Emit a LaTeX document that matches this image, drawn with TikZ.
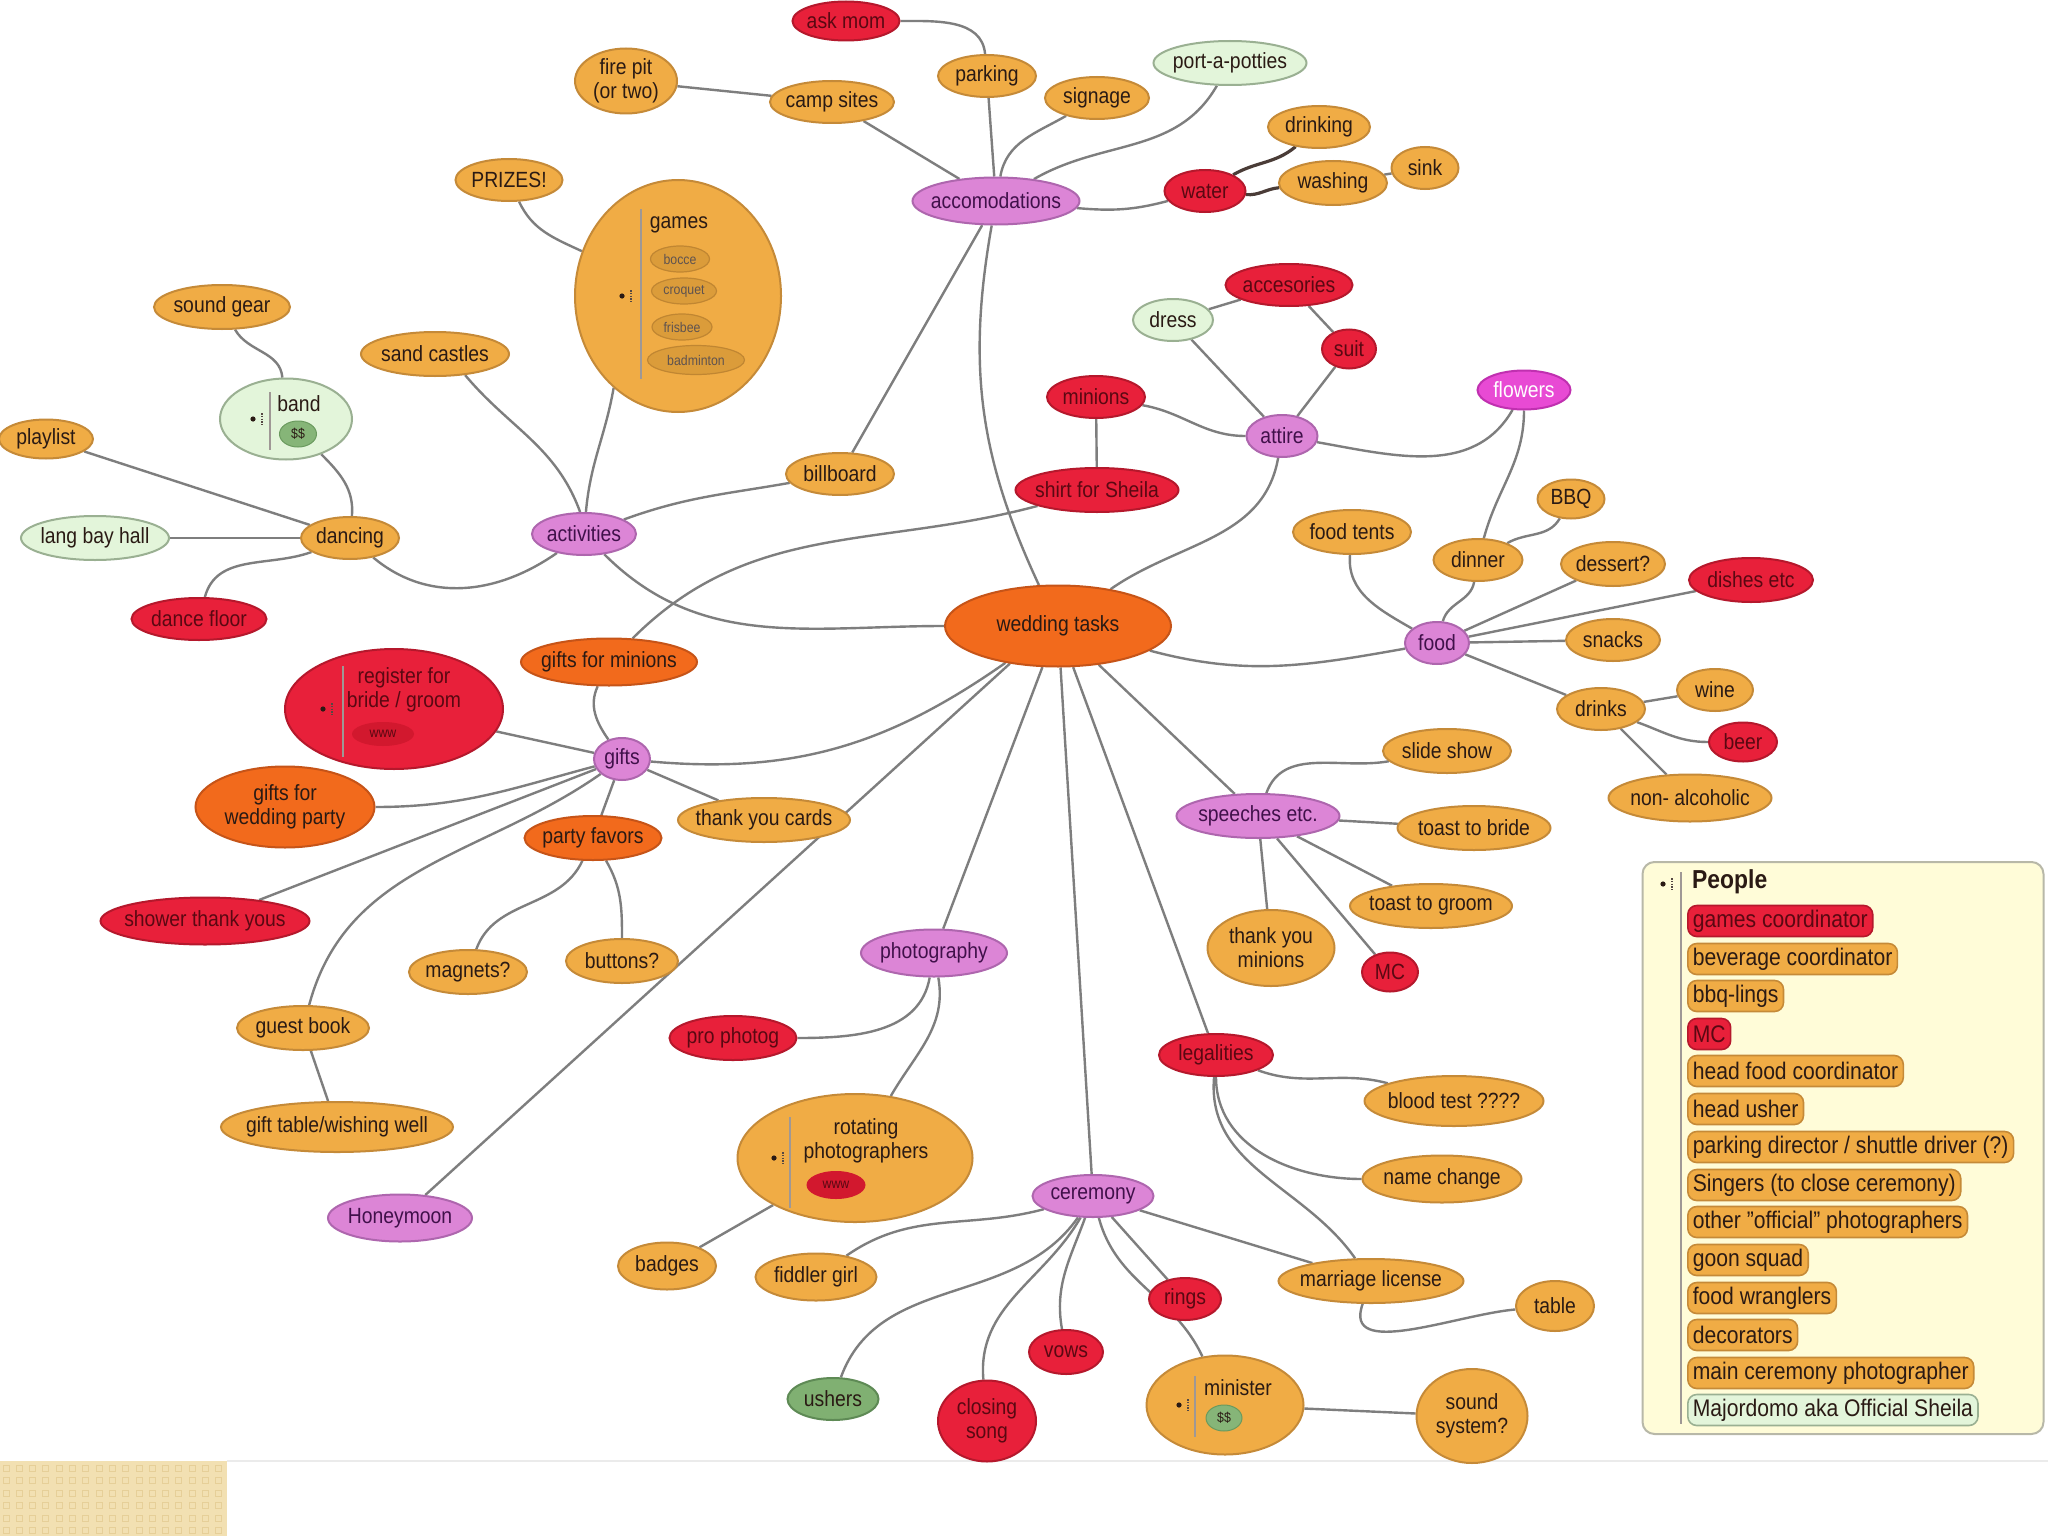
\documentclass[tikz,border=0pt]{standalone}
\usepackage{fontspec}
\setmainfont{Liberation Sans}[FakeStretch=0.88]
\usepackage{tikz}
\usetikzlibrary{shapes.geometric,positioning}
\definecolor{ink}{HTML}{2A1A14}
\definecolor{redink}{HTML}{5A0812}
\definecolor{pinkink}{HTML}{40104A}
\definecolor{orngfill}{HTML}{F0AC45}
\definecolor{orngdraw}{HTML}{C58A38}
\definecolor{redfill}{HTML}{E8203A}
\definecolor{reddraw}{HTML}{B5182C}
\definecolor{dkofill}{HTML}{F26A1C}
\definecolor{dkodraw}{HTML}{C65418}
\definecolor{pinkfill}{HTML}{DC85D6}
\definecolor{pinkdraw}{HTML}{AE66AE}
\definecolor{palefill}{HTML}{E3F5DA}
\definecolor{paledraw}{HTML}{9AB092}
\definecolor{grnfill}{HTML}{80B072}
\definecolor{grndraw}{HTML}{5E8A55}
\definecolor{magfill}{HTML}{E84AD4}
\definecolor{magdraw}{HTML}{C030B0}
\definecolor{innerfill}{HTML}{DB9C3A}
\definecolor{innerdraw}{HTML}{C08632}
\definecolor{wwwred}{HTML}{D2182E}
\definecolor{cashgrn}{HTML}{86B578}
\definecolor{cashdraw}{HTML}{6A9A5E}
\definecolor{linkgray}{HTML}{7E7E7E}
\definecolor{peoplebg}{HTML}{FFFCD8}
\definecolor{peopledraw}{HTML}{B8B8A8}
\definecolor{patchbg}{HTML}{F2E0B2}
\definecolor{patchsq}{HTML}{E6CF98}
\newcommand\mapfont{\fontsize{22}{24}\selectfont}
\newcommand\subfont{\fontsize{14}{16}\selectfont}
\newcommand\peoplefont{\fontsize{24}{26}\selectfont}
\newcommand\foldmark[2]{%
  \fill[ink] (#1,#2) circle (2.6pt);
  \draw[ink!80,line width=1.6pt,dash pattern=on 1.6pt off 1.2pt] (#1+9,#2-6) -- (#1+9,#2+6);}
\pgfdeclarelayer{bg}
\pgfsetlayers{bg,main}
\tikzset{
  sz/.style 2 args={minimum width=#1,minimum height=#2},
  topic/.style={ellipse,draw,line width=2pt,inner xsep=-20pt,inner ysep=-2pt,
                align=center,font=\mapfont,text=ink},
  orng/.style={topic,fill=orngfill,draw=orngdraw},
  redn/.style={topic,fill=redfill,draw=reddraw,text=redink},
  dkorng/.style={topic,fill=dkofill,draw=dkodraw},
  pinkn/.style={topic,fill=pinkfill,draw=pinkdraw,text=pinkink},
  paleg/.style={topic,fill=palefill,draw=paledraw},
  grnn/.style={topic,fill=grnfill,draw=grndraw},
  magn/.style={topic,fill=magfill,draw=magdraw,text=white},
  subitem/.style={ellipse,draw=innerdraw,fill=innerfill,line width=1.2pt,
                  inner sep=0pt,font=\subfont,text=ink!75},
  wwwtag/.style={ellipse,fill=wwwred,draw=none,inner sep=0pt,font=\subfont,text=redink},
  cashtag/.style={ellipse,fill=cashgrn,draw=cashdraw,line width=1pt,inner sep=0pt,
                  font=\subfont,text=ink},
  innertext/.style={font=\mapfont,text=ink,align=center,inner sep=0pt},
  foldline/.style={draw=ink!45,line width=1.4pt},
  link/.style={draw=linkgray,line width=2.4pt},
  waterlink/.style={draw=ink!85,line width=3.2pt},
  peoplebox/.style={draw=peopledraw,fill=peoplebg,line width=2pt,rounded corners=12pt},
  person/.style={rounded corners=9pt,draw=orngdraw,fill=orngfill,line width=1.6pt,
                 anchor=west,inner xsep=5pt,inner ysep=0pt,minimum height=31pt,
                 font=\peoplefont,text=ink},
  personred/.style={person,draw=reddraw,fill=redfill,text=redink},
  personpale/.style={person,draw=paledraw,fill=palefill}
}
\begin{document}
\begin{tikzpicture}[x=1pt,y=-1pt]
  \useasboundingbox (0,0) rectangle (2048,1536);

  % hub and main branches
  \node[dkorng,sz={226}{81}] (wt) at (1058,626) {wedding tasks};
  \node[pinkn,sz={167}{47}] (accom) at (996,201) {accomodations};
  \node[pinkn,sz={104}{42}] (activities) at (584,534) {activities};
  \node[pinkn,sz={71}{42}] (attire) at (1282,436) {attire};
  \node[pinkn,sz={64}{42}] (food) at (1437,643) {food};
  \node[pinkn,sz={56}{42}] (gifts) at (622,759) {gifts};
  \node[pinkn,sz={146}{47}] (photography) at (934,953) {photography};
  \node[pinkn,sz={144}{47}] (honeymoon) at (400,1218) {Honeymoon};
  \node[pinkn,sz={121}{42}] (ceremony) at (1093,1196) {ceremony};
  \node[pinkn,sz={163}{44}] (speeches) at (1258,816) {speeches etc.};
  \node[redn,sz={114}{42}] (legalities) at (1216,1055) {legalities};

  % accomodations
  \node[redn,sz={107}{39}] (askmom) at (846,21) {ask mom};
  \node[orng,sz={98}{42}] (parking) at (987,76) {parking};
  \node[orng,sz={102}{65}] (firepit) at (626,81) {fire pit\\(or two)};
  \node[orng,sz={124}{42}] (campsites) at (832,102) {camp sites};
  \node[orng,sz={104}{42}] (signage) at (1097,98) {signage};
  \node[paleg,sz={153}{44}] (potties) at (1230,63) {port-a-potties};
  \node[redn,sz={81}{42}] (water) at (1205,191) {water};
  \node[orng,sz={102}{42}] (drinking) at (1319,127) {drinking};
  \node[orng,sz={108}{44}] (washing) at (1333,183) {washing};
  \node[orng,sz={67}{42}] (sink) at (1425,168) {sink};
  \node[orng,sz={108}{42}] (billboard) at (840,474) {billboard};

  % activities
  \node[orng,sz={107}{42}] (prizes) at (509,180) {PRIZES!};
  \node[orng,sz={206}{232}] (games) at (678,296) {};
  \foldmark{622}{296}
  \draw[foldline] (641,209) -- (641,379);
  \node[innertext] (gamestitle) at (679,225) {games};
  \node[subitem,sz={59}{26}] (bocce) at (680,259) {bocce};
  \node[subitem,sz={65}{26}] (croquet) at (684,291) {croquet};
  \node[subitem,sz={60}{26}] (frisbee) at (682,327) {frisbee};
  \node[subitem,sz={97}{29}] (badminton) at (696,360) {badminton};
  \node[orng,sz={148}{44}] (sandcastles) at (435,354) {sand castles};
  \node[orng,sz={136}{44}] (soundgear) at (222,307) {sound gear};
  \node[paleg,sz={132}{81}] (band) at (286,419) {};
  \foldmark{253}{419}
  \draw[foldline] (270,392) -- (270,450);
  \node[innertext] (bandtitle) at (299,404) {band};
  \node[cashtag,sz={37}{26}] (bandcash) at (298,434) {\$\$};
  \node[orng,sz={94}{39}] (playlist) at (46,439) {playlist};
  \node[paleg,sz={148}{44}] (langbay) at (95,538) {lang bay hall};
  \node[orng,sz={98}{42}] (dancing) at (350,538) {dancing};
  \node[redn,sz={135}{42}] (dancefloor) at (199,619) {dance floor};

  % attire
  \node[paleg,sz={80}{42}] (dress) at (1173,320) {dress};
  \node[redn,sz={127}{42}] (accesories) at (1289,285) {accesories};
  \node[redn,sz={54}{39}] (suit) at (1349,349) {suit};
  \node[redn,sz={98}{42}] (minions) at (1096,397) {minions};
  \node[magn,sz={93}{39}] (flowers) at (1524,390) {flowers};
  \node[redn,sz={163}{44}] (shirt) at (1097,490) {shirt for Sheila};

  % food
  \node[orng,sz={67}{39}] (bbq) at (1571,499) {BBQ};
  \node[orng,sz={118}{44}] (foodtents) at (1352,532) {food tents};
  \node[orng,sz={89}{42}] (dinner) at (1478,560) {dinner};
  \node[orng,sz={104}{44}] (dessert) at (1613,564) {dessert?};
  \node[redn,sz={124}{44}] (dishes) at (1751,580) {dishes etc};
  \node[orng,sz={94}{42}] (snacks) at (1613,640) {snacks};
  \node[orng,sz={76}{42}] (wine) at (1715,690) {wine};
  \node[orng,sz={88}{42}] (drinks) at (1601,709) {drinks};
  \node[redn,sz={68}{39}] (beer) at (1743,742) {beer};
  \node[orng,sz={163}{47}] (nonalc) at (1690,798) {non- alcoholic};

  % gifts
  \node[dkorng,sz={176}{47}] (giftsmin) at (609,662) {gifts for minions};
  \node[redn,sz={218}{120}] (register) at (394,709) {};
  \foldmark{323}{709}
  \draw[foldline] (343,666) -- (343,757);
  \node[innertext,text=redink] (registertitle) at (404,690) {register for\\bride / groom};
  \node[wwwtag,sz={62}{24}] (registerwww) at (383,734) {www};
  \node[dkorng,sz={179}{81}] (giftswp) at (285,807) {gifts for\\wedding party};
  \node[orng,sz={172}{44}] (tycards) at (764,820) {thank you cards};
  \node[dkorng,sz={137}{44}] (partyfav) at (593,838) {party favors};
  \node[redn,sz={209}{47}] (shower) at (205,921) {shower thank yous};
  \node[orng,sz={118}{44}] (magnets) at (468,972) {magnets?};
  \node[orng,sz={112}{44}] (buttons) at (622,961) {buttons?};
  \node[orng,sz={132}{44}] (guestbook) at (303,1028) {guest book};
  \node[orng,sz={232}{50}] (gifttable) at (337,1127) {gift table/wishing well};

  % photography
  \node[redn,sz={127}{44}] (prophotog) at (733,1038) {pro photog};
  \node[orng,sz={235}{128}] (rotating) at (855,1158) {};
  \foldmark{774}{1158}
  \draw[foldline] (790,1117) -- (790,1208);
  \node[innertext] (rotatingtitle) at (866,1141) {rotating\\photographers};
  \node[wwwtag,sz={59}{28}] (rotatingwww) at (836,1185) {www};
  \node[orng,sz={98}{47}] (badges) at (667,1266) {badges};

  % ceremony
  \node[orng,sz={121}{47}] (fiddler) at (816,1277) {fiddler girl};
  \node[redn,sz={72}{42}] (rings) at (1185,1299) {rings};
  \node[orng,sz={185}{44}] (license) at (1371,1281) {marriage license};
  \node[orng,sz={78}{50}] (table) at (1555,1306) {table};
  \node[redn,sz={74}{44}] (vows) at (1066,1352) {vows};
  \node[grnn,sz={91}{42}] (ushers) at (833,1399) {ushers};
  \node[redn,sz={98}{81}] (closing) at (987,1421) {closing\\song};
  \node[orng,sz={157}{99}] (minister) at (1225,1405) {};
  \foldmark{1179}{1405}
  \draw[foldline] (1195,1376) -- (1195,1437);
  \node[innertext] (ministertitle) at (1238,1388) {minister};
  \node[cashtag,sz={36}{26}] (ministercash) at (1224,1418) {\$\$};
  \node[orng,sz={111}{94}] (soundsys) at (1472,1416) {sound\\system?};

  % speeches and legalities
  \node[orng,sz={128}{44}] (slideshow) at (1447,751) {slide show};
  \node[orng,sz={153}{44}] (toastbride) at (1474,828) {toast to bride};
  \node[orng,sz={162}{44}] (toastgroom) at (1431,906) {toast to groom};
  \node[orng,sz={127}{76}] (tyminions) at (1271,948) {thank you\\minions};
  \node[redn,sz={56}{39}] (mc) at (1390,972) {MC};
  \node[orng,sz={179}{50}] (bloodtest) at (1454,1101) {blood test ????};
  \node[orng,sz={159}{47}] (namechange) at (1442,1179) {name change};

  % people list
  \node[peoplebox,minimum width=401,minimum height=572] (people) at (1843,1148) {};
  \foldmark{1663}{884}
  \draw[foldline] (1681,872) -- (1681,1424);
  \node[font=\fontsize{26}{28}\selectfont\bfseries,text=ink,anchor=west,inner sep=0pt]
    (peopletitle) at (1692,882) {People};
  \node[personred] (p1) at (1687,921) {games coordinator};
  \node[person] (p2) at (1687,959) {beverage coordinator};
  \node[person] (p3) at (1687,996) {bbq-lings};
  \node[personred] (p4) at (1687,1034) {MC};
  \node[person] (p5) at (1687,1071) {head food coordinator};
  \node[person] (p6) at (1687,1109) {head usher};
  \node[person] (p7) at (1687,1147) {parking director / shuttle driver (?)};
  \node[person] (p8) at (1687,1185) {Singers (to close ceremony)};
  \node[person] (p9) at (1687,1222) {other "official" photographers};
  \node[person] (p10) at (1687,1260) {goon squad};
  \node[person] (p11) at (1687,1298) {food wranglers};
  \node[person] (p12) at (1687,1335) {decorators};
  \node[person] (p13) at (1687,1373) {main ceremony photographer};
  \node[personpale] (p14) at (1687,1410) {Majordomo aka Official Sheila};

  \begin{pgfonlayer}{bg}
    \fill[white] (0,0) rectangle (2048,1536);
    \draw[black!8,line width=1.5pt] (227,1461) -- (2048,1461);
    \fill[patchbg] (0,1461) rectangle (227,1536);
    \foreach \i in {0,...,16}
      \foreach \j in {0,...,5}
        \draw[patchsq,line width=1pt] (\i*13.3+3,1465+\j*12.5) rectangle ++(6,6);

    % hub links
    \draw[link] (accom) to[out=-100,in=115] (wt);
    \draw[link] (activities) to[out=-45,in=180] (wt);
    \draw[link] (attire) to[out=-100,in=35] (wt);
    \draw[link] (wt) to[out=-15,in=190] (food);
    \draw[link] (gifts) to[out=-5,in=215] (wt);
    \draw[link] (wt.218) -- (honeymoon);
    \draw[link] (wt) -- (photography);
    \draw[link] (wt) -- (ceremony);
    \draw[link] (wt) -- (legalities);
    \draw[link] (wt) -- (speeches);

    % accomodations
    \draw[link] (accom) -- (billboard);
    \draw[link] (accom) -- (campsites);
    \draw[link] (accom) -- (parking);
    \draw[link] (accom) to[out=80,in=210] (signage);
    \draw[link] (accom) to[out=30,in=240] (potties);
    \draw[link] (accom) to[out=-5,in=195] (water);
    \draw[link] (parking) to[out=95,in=0] (askmom);
    \draw[link] (campsites) -- (firepit);
    \draw[waterlink] (water) to[out=30,in=220] (drinking);
    \draw[waterlink] (water) to[out=-5,in=185] (washing);
    \draw[link] (washing) -- (sink);

    % activities
    \draw[link] (activities) to[out=20,in=190] (billboard);
    \draw[link] (activities.85) to[out=85,in=-100] (games.-125);
    \draw[link] (activities.100) to[out=110,in=-50] (sandcastles.-35);
    \draw[link] (activities) to[out=215,in=-40] (dancing);
    \draw[link] (games) to[out=155,in=-65] (prizes);
    \draw[link] (dancing) -- (playlist);
    \draw[link] (dancing) -- (langbay);
    \draw[link] (dancing) to[out=200,in=75] (dancefloor);
    \draw[link] (dancing) to[out=85,in=-45] (band);
    \draw[link] (band) to[out=95,in=-60] (soundgear);

    % attire
    \draw[link] (attire) -- (dress);
    \draw[link] (attire) -- (suit);
    \draw[link] (dress) -- (accesories);
    \draw[link] (accesories) -- (suit);
    \draw[link] (minions) to[out=-10,in=180] (attire);
    \draw[link] (minions) -- (shirt);
    \draw[link] (attire) to[out=-10,in=240] (flowers);

    % food
    \draw[link] (food) to[out=150,in=-95] (foodtents);
    \draw[link] (food) to[out=75,in=-100] (dinner);
    \draw[link] (dinner) to[out=30,in=-120] (bbq);
    \draw[link] (dinner) to[out=75,in=-90] (flowers);
    \draw[link] (food) -- (dessert);
    \draw[link] (food) -- (dishes);
    \draw[link] (food) -- (snacks);
    \draw[link] (food) -- (drinks);
    \draw[link] (drinks) -- (wine);
    \draw[link] (drinks) to[out=-20,in=180] (beer);
    \draw[link] (drinks) -- (nonalc);

    % gifts
    \draw[link] (giftsmin) to[out=45,in=195] (shirt);
    \draw[link] (giftsmin) to[out=-115,in=125] (gifts);
    \draw[link] (gifts) -- (register);
    \draw[link] (gifts) to[out=195,in=0] (giftswp);
    \draw[link] (gifts) -- (shower);
    \draw[link] (gifts) to[out=215,in=75] (guestbook);
    \draw[link] (gifts) -- (partyfav);
    \draw[link] (gifts) -- (tycards);
    \draw[link] (partyfav) to[out=-115,in=70] (magnets);
    \draw[link] (partyfav) to[out=-60,in=90] (buttons);
    \draw[link] (guestbook) -- (gifttable);

    % photography
    \draw[link] (photography) to[out=-100,in=0] (prophotog);
    \draw[link] (photography) to[out=-80,in=60] (rotating);
    \draw[link] (rotating) -- (badges);

    % ceremony
    \draw[link] (ceremony) to[out=195,in=35] (fiddler);
    \draw[link] (ceremony) to[out=235,in=70] (ushers);
    \draw[link] (ceremony) to[out=240,in=95] (closing);
    \draw[link] (ceremony) to[out=250,in=100] (vows);
    \draw[link] (ceremony) to[out=-75,in=115] (minister);
    \draw[link] (ceremony) -- (rings);
    \draw[link] (ceremony) -- (license);
    \draw[link] (minister) -- (soundsys);
    \draw[link] (license) to[out=-110,in=185] (table);

    % speeches and legalities
    \draw[link] (speeches) to[out=70,in=190] (slideshow);
    \draw[link] (speeches) -- (toastbride);
    \draw[link] (speeches) -- (toastgroom);
    \draw[link] (speeches) -- (mc);
    \draw[link] (speeches) -- (tyminions);
    \draw[link] (legalities) to[out=-20,in=165] (bloodtest);
    \draw[link] (legalities) to[out=-90,in=180] (namechange);
    \draw[link] (legalities) to[out=-95,in=125] (license);
  \end{pgfonlayer}
\end{tikzpicture}
\end{document}
